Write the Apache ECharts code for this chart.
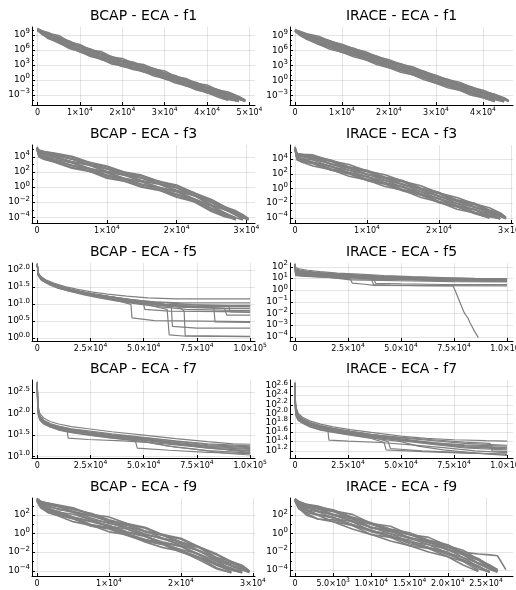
<!DOCTYPE html>
<html><head><meta charset="utf-8">
<script src="https://cdn.jsdelivr.net/npm/echarts@6/dist/echarts.min.js"></script>
<style>html,body{margin:0;padding:0;background:#fff}#c{width:516px;height:590px}</style>
</head><body><div id="c"></div>
<script>
// ---------- DATA (y values are log10 of the objective value) ----------
const bcapF1X = [0,1000,2500,5000,7500,10000,12500,15000,17500,20000,22500,25000,27500,30000,32500,35000,37500,40000,42500,45000,47500,49000];
const bcapF1Y = [
 [10.2,9.9,9.3,8.9,7.6,7.1,6.0,5.7,4.6,4.3,3.4,3.1,2.2,1.8,0.7,0.3,-0.7,-1.0,-2.0,-2.4,-3.3,-4.1],
 [10.1,9.7,9.4,8.4,7.7,6.7,6.1,5.2,4.6,3.8,3.5,2.7,2.2,1.3,0.8,-0.1,-0.6,-1.5,-2.0,-2.8,-3.5,-4.2],
 [10.0,9.8,9.1,8.4,7.3,6.7,5.7,5.2,4.2,3.8,3.1,2.7,1.8,1.3,0.4,-0.1,-1.0,-1.5,-2.4,-2.9,-3.7,-4.2],
 [10.1,9.6,9.0,8.2,7.1,6.5,5.5,5.0,4.0,3.6,2.9,2.5,1.6,1.1,0.2,-0.3,-1.2,-1.7,-2.6,-3.1,-3.9,-4.2],
 [10.0,9.4,8.9,7.9,7.1,6.1,5.5,4.6,4.0,3.2,2.9,2.1,1.6,0.7,0.2,-0.7,-1.2,-2.1,-2.6,-3.4,-4.1],
 [9.9,9.4,8.6,7.8,6.7,6.1,5.1,4.6,3.6,3.2,2.5,2.1,1.2,0.7,-0.2,-0.7,-1.6,-2.1,-3.0,-3.5,-4.2],
 [10.0,9.2,8.6,7.5,6.7,5.7,5.1,4.2,3.6,2.8,2.5,1.7,1.2,0.3,-0.2,-1.1,-1.6,-2.5,-3.0,-3.8,-4.2],
 [9.9,9.3,8.3,7.5,6.3,5.7,4.7,4.2,3.2,2.8,2.1,1.7,0.8,0.3,-0.6,-1.1,-2.0,-2.5,-3.4,-4.1],
 [10.3,9.8,9.5,8.5,7.8,6.8,6.2,5.3,4.7,3.9,3.6,2.8,2.3,1.4,0.9,0.0,-0.5,-1.4,-1.9,-2.7,-3.4,-4.0],
 [10.1,9.6,9.2,8.2,7.2,6.6,5.6,5.1,4.1,3.7,3.0,2.6,1.7,1.2,0.3,-0.2,-1.1,-1.6,-2.5,-3.0,-3.8,-4.3],
 [10.0,9.5,8.7,8.0,6.8,6.2,5.2,4.7,3.7,3.3,2.6,2.2,1.3,0.8,-0.1,-0.6,-1.5,-2.0,-2.9,-3.4,-4.1],
 [9.9,9.2,8.5,7.4,6.6,5.6,5.0,4.1,3.5,2.7,2.4,1.6,1.1,0.2,-0.3,-1.2,-1.7,-2.6,-3.1,-3.9,-4.3],
 [10.2,9.7,9.3,8.5,7.4,6.8,5.8,5.3,4.3,3.9,3.2,2.8,1.9,1.4,0.5,0.0,-0.9,-1.4,-2.3,-2.8,-3.6,-4.2],
 [10.0,9.3,8.6,7.7,6.6,6.0,5.0,4.5,3.5,3.1,2.4,2.0,1.1,0.6,-0.3,-0.8,-1.7,-2.2,-3.1,-3.6,-4.3]
];
const iraceF1X = [0,1000,2500,5000,7500,10000,12500,15000,17500,20000,22500,25000,27500,30000,32500,35000,37500,40000,42500,44500,45500];
const iraceF1Y = [
 [10.2,9.9,9.4,8.9,7.9,7.3,6.4,5.8,4.8,4.2,3.3,2.8,1.8,1.1,0.2,-0.3,-1.3,-1.9,-2.8,-3.4,-4.0],
 [10.1,9.8,9.2,8.5,7.9,6.9,6.4,5.4,4.8,3.8,3.3,2.4,1.8,0.7,0.2,-0.7,-1.3,-2.3,-2.8,-3.6,-4.1],
 [10.0,9.7,9.1,8.5,7.5,6.9,6.0,5.4,4.4,3.8,2.9,2.4,1.4,0.7,-0.2,-0.7,-1.7,-2.3,-3.2,-3.8,-4.1],
 [10.1,9.6,9.0,8.2,7.5,6.5,6.0,5.0,4.4,3.4,2.9,2.0,1.4,0.3,-0.2,-1.1,-1.7,-2.6,-3.2,-4.0],
 [10.0,9.5,8.8,8.1,7.1,6.5,5.6,5.0,4.0,3.4,2.5,2.0,1.0,0.3,-0.6,-1.1,-2.1,-2.6,-3.5,-4.1],
 [9.9,9.4,8.8,7.7,7.1,6.1,5.6,4.6,4.0,3.0,2.5,1.6,1.0,-0.1,-0.6,-1.5,-2.1,-3.0,-3.5,-4.2],
 [10.0,9.3,8.6,7.7,6.7,6.1,5.2,4.6,3.6,3.0,2.1,1.6,0.6,-0.1,-1.0,-1.5,-2.5,-3.0,-3.9],
 [9.9,9.2,8.6,7.3,6.7,5.7,5.2,4.2,3.6,2.6,2.1,1.2,0.6,-0.5,-1.0,-1.9,-2.5,-3.4,-4.1],
 [9.9,9.1,8.3,7.3,6.3,5.7,4.8,4.2,3.2,2.6,1.7,1.2,0.2,-0.5,-1.4,-1.9,-2.9,-3.4,-4.2],
 [10.2,9.8,9.3,8.6,8.0,7.0,6.5,5.5,4.9,3.9,3.4,2.5,1.9,0.8,0.3,-0.6,-1.2,-2.2,-2.7,-3.5,-4.0],
 [10.1,9.7,9.0,8.4,7.4,6.8,5.9,5.3,4.3,3.7,2.8,2.3,1.3,0.6,-0.3,-0.8,-1.8,-2.3,-3.2,-3.9],
 [10.0,9.3,8.7,7.8,6.8,6.2,5.3,4.7,3.7,3.1,2.2,1.7,0.7,0.0,-0.9,-1.4,-2.4,-2.9,-3.8,-4.2],
 [10.1,9.7,9.2,8.3,7.8,6.8,6.3,5.3,4.7,3.7,3.2,2.3,1.7,0.6,0.1,-0.8,-1.4,-2.4,-2.9,-3.7,-4.1],
 [9.9,9.3,8.5,7.6,6.6,6.0,5.1,4.5,3.5,2.9,2.0,1.5,0.5,-0.2,-1.1,-1.6,-2.6,-3.1,-4.0]
];
const bcapF3X = [0,300,1000,2500,5000,7500,10000,12500,15000,17500,20000,22500,25000,27000,28500,29500,30300];
const bcapF3Y = [
 [5.3,4.9,4.7,4.5,4.1,3.3,2.8,2.0,1.6,0.8,0.3,-0.7,-1.6,-2.6,-3.1,-3.6,-4.1],
 [5.2,4.8,4.6,4.3,3.7,3.3,2.4,2.0,1.2,0.8,-0.1,-0.7,-2.0,-2.6,-3.4,-3.8,-4.2],
 [5.1,4.7,4.4,4.3,3.7,2.9,2.4,1.6,1.2,0.4,-0.1,-1.1,-2.0,-3.0,-3.5,-4.1],
 [5.2,4.5,4.4,4.0,3.3,2.9,2.0,1.6,0.8,0.4,-0.5,-1.1,-2.4,-3.0,-3.7,-4.2],
 [5.0,4.4,4.1,3.9,3.3,2.5,2.0,1.2,0.8,0.0,-0.5,-1.5,-2.4,-3.4,-4.0],
 [5.1,4.2,4.0,3.6,2.9,2.5,1.6,1.2,0.4,0.0,-0.9,-1.5,-2.8,-3.4,-4.1],
 [5.0,4.1,3.8,3.5,2.9,2.1,1.6,0.8,0.4,-0.4,-0.9,-1.9,-2.8,-3.7,-4.2],
 [4.9,4.0,3.7,3.3,2.5,2.1,1.2,0.8,0.0,-0.4,-1.3,-1.9,-3.2,-3.9,-4.2],
 [5.3,4.8,4.7,4.4,4.0,3.2,2.7,1.9,1.5,0.7,0.2,-0.8,-1.7,-2.7,-3.2,-3.7,-4.2],
 [5.2,4.6,4.3,4.1,3.4,3.0,2.1,1.7,0.9,0.5,-0.4,-1.0,-2.3,-2.9,-3.6,-4.0,-4.3],
 [5.1,4.3,4.1,3.7,3.2,2.4,1.9,1.1,0.7,-0.1,-0.6,-1.6,-2.5,-3.5,-4.0,-4.3],
 [5.0,4.1,3.7,3.4,2.6,2.2,1.3,0.9,0.1,-0.3,-1.2,-1.8,-3.1,-3.7,-4.3],
 [5.2,4.7,4.6,4.2,3.8,3.0,2.5,1.7,1.3,0.5,0.0,-1.0,-1.9,-2.9,-3.3,-3.9,-4.2],
 [5.0,4.2,3.9,3.6,2.8,2.4,1.5,1.1,0.3,-0.1,-1.0,-1.6,-2.9,-3.5,-4.1]
];
const iraceF3X = [0,300,1000,2500,5000,7500,10000,12500,15000,17500,20000,22500,25000,27000,28500,29300];
const iraceF3Y = [
 [5.6,4.8,4.7,4.6,3.8,3.3,2.4,1.9,1.0,0.4,-0.6,-1.2,-2.1,-2.6,-3.3,-3.9],
 [5.5,4.7,4.6,4.3,3.8,2.9,2.4,1.5,1.0,0.0,-0.6,-1.6,-2.1,-3.0,-3.4,-4.0],
 [5.4,4.6,4.4,4.3,3.4,2.9,2.0,1.5,0.6,0.0,-1.0,-1.6,-2.5,-3.0,-3.6,-4.0],
 [5.6,4.4,4.4,4.0,3.4,2.5,2.0,1.1,0.6,-0.4,-1.0,-2.0,-2.5,-3.3,-3.8,-4.1],
 [5.5,4.3,4.1,3.9,3.0,2.5,1.6,1.1,0.2,-0.4,-1.4,-2.0,-2.9,-3.4,-4.0],
 [5.4,4.1,4.0,3.5,3.0,2.1,1.6,0.7,0.2,-0.8,-1.4,-2.4,-2.9,-3.7,-4.1],
 [5.5,4.0,3.8,3.5,2.6,2.1,1.2,0.7,-0.2,-0.8,-1.8,-2.4,-3.3,-3.8,-4.1],
 [5.3,3.9,3.6,3.1,2.6,1.7,1.2,0.3,-0.2,-1.2,-1.8,-2.8,-3.3,-4.0],
 [5.7,4.7,4.7,4.4,3.9,3.0,2.5,1.6,1.1,0.1,-0.5,-1.5,-2.0,-2.9,-3.3,-3.9],
 [5.5,4.5,4.4,4.2,3.3,2.8,1.9,1.4,0.5,-0.1,-1.1,-1.7,-2.6,-3.2,-3.7,-4.1],
 [5.6,4.2,4.1,3.6,3.1,2.2,1.7,0.8,0.3,-0.7,-1.3,-2.3,-2.8,-3.6,-4.1],
 [5.4,4.0,3.7,3.4,2.5,2.0,1.1,0.6,-0.3,-0.9,-1.9,-2.5,-3.4,-4.0],
 [5.6,4.6,4.5,4.2,3.7,2.8,2.3,1.4,0.9,-0.1,-0.7,-1.7,-2.2,-3.1,-3.5,-4.0],
 [5.5,4.1,3.9,3.6,2.7,2.2,1.3,0.8,-0.1,-0.7,-1.7,-2.3,-3.2,-3.7,-4.1]
];
const bcapF5Runs = [
 [[0,2.18],[300,1.92],[1500,1.82],[4000,1.72],[8000,1.62],[13000,1.52],[19000,1.44],[26000,1.36],[33000,1.3],[42000,1.24],[52000,1.19],[65000,1.16],[100000,1.16]],
 [[0,2.15],[400,1.88],[2000,1.75],[5000,1.64],[9000,1.55],[14000,1.46],[20000,1.38],[27000,1.3],[35000,1.22],[44000,1.14],[55000,1.07],[68000,1.04],[100000,1.04]],
 [[0,2.2],[300,1.95],[1200,1.85],[3500,1.7],[7000,1.6],[12000,1.5],[18000,1.4],[24000,1.32],[31000,1.24],[39000,1.16],[48000,1.08],[60000,1.0],[78000,0.97],[100000,0.97]],
 [[0,2.16],[500,1.85],[2500,1.72],[6000,1.6],[11000,1.48],[17000,1.38],[23000,1.3],[30000,1.22],[38000,1.14],[47000,1.05],[58000,0.98],[72000,0.93],[100000,0.93]],
 [[0,2.18],[300,1.9],[1500,1.78],[4500,1.66],[9000,1.55],[15000,1.45],[21000,1.36],[28000,1.28],[36000,1.2],[45000,1.1],[54000,1.0],[66000,0.92],[85000,0.88],[100000,0.88]],
 [[0,2.14],[400,1.84],[2000,1.7],[5500,1.58],[10000,1.47],[16000,1.37],[22000,1.28],[29000,1.19],[37000,1.1],[46000,1.02],[57000,0.93],[70000,0.85],[92000,0.82],[100000,0.82]],
 [[0,2.2],[300,1.93],[1500,1.8],[4000,1.68],[8500,1.56],[14000,1.44],[20000,1.34],[27000,1.25],[35000,1.16],[44000,1.07],[50000,1.0],[50500,0.85],[62000,0.8],[100000,0.78]],
 [[0,2.17],[350,1.9],[1800,1.76],[5000,1.63],[10000,1.52],[16000,1.42],[23000,1.33],[31000,1.25],[40000,1.17],[50000,1.08],[60000,1.0],[75000,0.93],[88000,0.88],[89000,0.68],[100000,0.68]],
 [[0,2.19],[300,1.87],[1500,1.74],[4500,1.62],[9000,1.5],[15000,1.39],[22000,1.3],[30000,1.2],[38000,1.1],[44000,1.0],[44500,0.6],[55000,0.52],[100000,0.49]],
 [[0,2.16],[400,1.89],[2000,1.77],[6000,1.63],[11000,1.52],[17000,1.42],[24000,1.33],[32000,1.25],[41000,1.16],[51000,1.06],[62000,0.97],[74000,0.92],[83000,0.9],[83500,0.48],[100000,0.47]],
 [[0,2.18],[300,1.91],[1200,1.8],[3500,1.67],[7500,1.55],[13000,1.45],[19000,1.36],[26000,1.27],[34000,1.18],[43000,1.08],[53000,1.0],[63000,0.93],[63500,0.35],[75000,0.3],[100000,0.3]],
 [[0,2.15],[500,1.86],[2500,1.73],[6500,1.6],[12000,1.48],[18000,1.37],[25000,1.28],[33000,1.18],[42000,1.08],[52000,0.98],[61000,0.85],[62000,0.1],[70000,0.06],[100000,0.05]],
 [[0,2.2],[300,1.94],[1400,1.83],[4000,1.7],[8000,1.58],[13500,1.47],[20000,1.37],[27000,1.29],[35000,1.21],[45000,1.12],[56000,1.02],[66000,0.95],[69000,0.8],[69500,0.08],[100000,0.06]],
 [[0,2.17],[400,1.88],[2000,1.76],[5500,1.64],[10000,1.54],[16000,1.44],[22000,1.35],[30000,1.26],[39000,1.18],[49000,1.1],[60000,1.04],[73000,0.99],[90000,0.96],[90500,0.78],[100000,0.76]]
];
const iraceF5Runs = [
 [[0,2.3],[300,1.95],[2000,1.85],[6000,1.72],[12000,1.6],[20000,1.48],[30000,1.38],[42000,1.27],[55000,1.18],[70000,1.1],[85000,1.03],[100000,1.0]],
 [[0,2.25],[300,1.85],[2000,1.75],[6000,1.63],[12000,1.52],[20000,1.42],[30000,1.32],[42000,1.22],[56000,1.13],[72000,1.05],[88000,0.98],[100000,0.97]],
 [[0,2.2],[300,1.75],[2500,1.66],[7000,1.55],[14000,1.45],[22000,1.35],[32000,1.25],[44000,1.15],[58000,1.06],[74000,0.98],[90000,0.92],[100000,0.92]],
 [[0,2.22],[300,1.65],[2500,1.57],[7000,1.48],[14000,1.38],[23000,1.29],[33000,1.2],[45000,1.1],[60000,1.01],[76000,0.93],[92000,0.88],[100000,0.88]],
 [[0,2.18],[300,1.55],[3000,1.48],[8000,1.4],[15000,1.32],[24000,1.23],[35000,1.14],[47000,1.05],[62000,0.96],[78000,0.88],[100000,0.85]],
 [[0,2.2],[300,1.45],[3000,1.38],[9000,1.3],[16000,1.22],[25000,1.14],[36000,1.06],[48000,0.98],[63000,0.9],[80000,0.82],[100000,0.8]],
 [[0,2.15],[300,1.35],[4000,1.28],[10000,1.2],[15500,1.12],[15600,0.95],[26000,0.9],[40000,0.85],[55000,0.8],[75000,0.75],[100000,0.72]],
 [[0,2.17],[300,1.3],[5000,1.22],[12000,1.14],[20000,1.06],[26000,1.0],[27000,0.62],[33000,0.52],[37000,0.42],[60000,0.4],[100000,0.38]],
 [[0,2.2],[300,1.5],[3500,1.42],[9000,1.33],[16000,1.25],[25000,1.15],[37000,1.05],[38000,0.6],[50000,0.55],[70000,0.5],[100000,0.48]],
 [[0,2.22],[300,1.4],[4000,1.33],[10000,1.24],[18000,1.16],[28000,1.06],[36000,0.98],[37000,0.5],[45000,0.45],[60000,0.4],[74500,0.37],[75500,0.0],[76500,-0.45],[77500,-0.9],[78500,-1.35],[79500,-1.8],[80500,-2.1],[81500,-2.35],[82500,-2.75],[83500,-3.1],[84500,-3.45],[85500,-3.75],[86500,-4.05]],
 [[0,2.16],[300,1.6],[2500,1.52],[7000,1.43],[13000,1.34],[21000,1.25],[31000,1.16],[42000,1.07],[56000,0.98],[72000,0.9],[90000,0.83],[100000,0.82]],
 [[0,2.19],[300,1.25],[5000,1.2],[13000,1.12],[22000,1.05],[25000,0.98],[40000,0.93],[58000,0.88],[78000,0.85],[100000,0.84]],
 [[0,2.2],[300,1.7],[2500,1.62],[7000,1.52],[14000,1.42],[22000,1.32],[32000,1.22],[44000,1.12],[58000,1.03],[74000,0.95],[90000,0.9],[100000,0.9]],
 [[0,2.18],[300,1.58],[3000,1.5],[8000,1.42],[15000,1.34],[24000,1.25],[35000,1.16],[47000,1.07],[62000,0.99],[78000,0.92],[100000,0.87]],
 [[0,2.21],[300,1.8],[2000,1.7],[6000,1.58],[12000,1.47],[20000,1.37],[30000,1.28],[42000,1.18],[56000,1.09],[72000,1.01],[88000,0.95],[100000,0.94]],
 [[0,2.17],[300,1.42],[3500,1.35],[9000,1.27],[16000,1.19],[24000,1.11],[34000,1.03],[46000,0.96],[62000,0.88],[80000,0.8],[100000,0.77]]
];
const bcapF7Runs = [
 [[0,2.75],[150,2.4],[500,2.15],[1200,2.0],[3000,1.9],[6000,1.82],[10000,1.76],[16000,1.7],[24000,1.65],[35000,1.58],[50000,1.5],[65000,1.42],[80000,1.35],[92000,1.3],[100000,1.29]],
 [[0,2.7],[150,2.3],[500,2.08],[1200,1.95],[3000,1.85],[6000,1.77],[10000,1.71],[16000,1.65],[24000,1.6],[35000,1.53],[50000,1.45],[65000,1.37],[80000,1.3],[100000,1.25]],
 [[0,2.72],[150,2.25],[500,2.03],[1200,1.9],[3000,1.8],[6000,1.73],[10000,1.67],[16000,1.62],[24000,1.56],[35000,1.49],[50000,1.41],[65000,1.33],[80000,1.26],[100000,1.21]],
 [[0,2.68],[150,2.2],[500,1.98],[1200,1.86],[3000,1.77],[6000,1.7],[10000,1.64],[16000,1.58],[24000,1.52],[35000,1.46],[50000,1.38],[65000,1.29],[80000,1.22],[100000,1.17]],
 [[0,2.74],[150,2.35],[500,2.1],[1200,1.93],[3000,1.83],[6000,1.75],[10000,1.69],[14000,1.62],[14500,1.43],[24000,1.4],[40000,1.37],[55000,1.32],[70000,1.25],[85000,1.18],[100000,1.14]],
 [[0,2.7],[150,2.28],[500,2.05],[1200,1.91],[3000,1.81],[6000,1.72],[10000,1.65],[16000,1.59],[24000,1.53],[35000,1.46],[46000,1.38],[47000,1.2],[62000,1.15],[80000,1.1],[100000,1.07]],
 [[0,2.73],[150,2.32],[500,2.06],[1200,1.92],[3000,1.82],[6000,1.74],[10000,1.68],[16000,1.62],[24000,1.57],[35000,1.5],[50000,1.42],[65000,1.34],[78000,1.25],[90000,1.15],[100000,1.1]],
 [[0,2.69],[150,2.18],[500,1.97],[1200,1.85],[3000,1.76],[6000,1.69],[10000,1.62],[16000,1.56],[24000,1.5],[35000,1.43],[50000,1.35],[60000,1.26],[75000,1.17],[88000,1.08],[100000,1.04]],
 [[0,2.71],[150,2.26],[500,2.02],[1200,1.89],[3000,1.79],[6000,1.71],[10000,1.66],[16000,1.6],[24000,1.55],[35000,1.47],[50000,1.4],[65000,1.31],[80000,1.24],[100000,1.19]],
 [[0,2.74],[150,2.34],[500,2.09],[1200,1.94],[3000,1.84],[6000,1.76],[10000,1.7],[16000,1.64],[24000,1.58],[35000,1.51],[50000,1.44],[65000,1.36],[80000,1.28],[100000,1.23]],
 [[0,2.7],[150,2.22],[500,2.0],[1200,1.87],[3000,1.78],[6000,1.7],[10000,1.63],[16000,1.57],[24000,1.51],[35000,1.44],[50000,1.36],[56000,1.3],[65000,1.22],[80000,1.14],[100000,1.09]],
 [[0,2.72],[150,2.27],[500,2.04],[1200,1.9],[3000,1.8],[6000,1.72],[10000,1.66],[16000,1.61],[24000,1.54],[35000,1.48],[50000,1.39],[65000,1.3],[80000,1.2],[100000,1.13]]
];
const iraceF7Runs = [
 [[0,2.69],[150,2.35],[500,2.15],[1500,2.02],[3500,1.93],[7000,1.85],[12000,1.78],[18000,1.72],[26000,1.66],[36000,1.6],[50000,1.52],[62000,1.47],[75000,1.44],[90000,1.42],[100000,1.41]],
 [[0,2.66],[150,2.25],[500,2.08],[1500,1.96],[3500,1.88],[7000,1.8],[12000,1.73],[18000,1.67],[26000,1.61],[36000,1.55],[50000,1.48],[65000,1.42],[80000,1.36],[100000,1.32]],
 [[0,2.68],[150,2.3],[500,2.1],[1500,1.98],[3500,1.9],[7000,1.82],[12000,1.75],[18000,1.69],[26000,1.63],[36000,1.56],[50000,1.46],[65000,1.38],[80000,1.31],[100000,1.27]],
 [[0,2.62],[150,2.15],[500,1.98],[1500,1.88],[3500,1.82],[7000,1.75],[12000,1.68],[18000,1.62],[26000,1.56],[36000,1.5],[50000,1.42],[65000,1.34],[80000,1.26],[100000,1.22]],
 [[0,2.65],[150,2.2],[500,2.03],[1500,1.93],[3500,1.86],[7000,1.78],[12000,1.71],[15500,1.66],[16000,1.43],[25000,1.41],[40000,1.38],[55000,1.33],[70000,1.27],[85000,1.2],[100000,1.16]],
 [[0,2.6],[150,2.1],[500,1.95],[1500,1.86],[3500,1.8],[7000,1.72],[12000,1.65],[18000,1.6],[26000,1.54],[36000,1.47],[42000,1.38],[43000,1.22],[60000,1.18],[80000,1.15],[100000,1.13]],
 [[0,2.67],[150,2.28],[500,2.06],[1500,1.95],[3500,1.87],[7000,1.79],[12000,1.72],[18000,1.66],[26000,1.6],[36000,1.53],[50000,1.45],[65000,1.36],[80000,1.28],[100000,1.24]],
 [[0,2.63],[150,2.18],[500,2.0],[1500,1.9],[3500,1.83],[7000,1.76],[12000,1.69],[18000,1.63],[26000,1.57],[36000,1.5],[44000,1.4],[45000,1.25],[60000,1.2],[80000,1.16],[100000,1.12]],
 [[0,2.64],[150,2.22],[500,2.04],[1500,1.94],[3500,1.85],[7000,1.77],[12000,1.7],[18000,1.64],[26000,1.58],[36000,1.52],[50000,1.44],[65000,1.37],[80000,1.33],[100000,1.3]],
 [[0,2.66],[150,2.26],[500,2.07],[1500,1.97],[3500,1.89],[7000,1.81],[12000,1.74],[18000,1.68],[26000,1.62],[36000,1.55],[50000,1.49],[65000,1.44],[80000,1.39],[92000,1.36],[93000,1.2],[100000,1.18]],
 [[0,2.61],[150,2.12],[500,1.97],[1500,1.87],[3500,1.81],[7000,1.73],[12000,1.66],[18000,1.61],[26000,1.55],[36000,1.48],[50000,1.4],[58000,1.3],[70000,1.22],[85000,1.15],[100000,1.1]],
 [[0,2.65],[150,2.24],[500,2.05],[1500,1.92],[3500,1.84],[7000,1.76],[12000,1.7],[18000,1.64],[26000,1.59],[36000,1.51],[50000,1.43],[65000,1.35],[80000,1.29],[100000,1.26]]
];
const bcapF9X = [0,500,1500,3000,5000,7500,10000,12500,15000,17500,20000,22500,25000,27000,28500,29500];
const bcapF9Y = [
 [3.8,3.5,3.3,3.1,2.8,2.1,1.8,1.1,0.7,-0.1,-0.5,-1.4,-2.2,-3.0,-3.4,-4.0],
 [3.7,3.5,3.2,2.9,2.7,2.1,1.4,1.1,0.3,-0.1,-0.9,-1.4,-2.6,-3.0,-3.6,-4.1],
 [3.8,3.3,3.1,2.9,2.3,1.9,1.4,0.7,0.3,-0.5,-0.9,-1.8,-2.6,-3.4,-3.8,-4.1],
 [3.7,3.3,2.9,2.7,2.3,1.5,1.2,0.5,-0.1,-0.5,-1.3,-1.8,-3.0,-3.4,-4.0],
 [3.6,3.2,2.8,2.3,2.1,1.5,0.8,0.5,-0.3,-0.9,-1.3,-2.2,-3.0,-3.8,-4.1],
 [3.7,3.0,2.6,2.3,1.7,1.3,0.8,0.1,-0.3,-1.1,-1.7,-2.2,-3.4,-3.9,-4.2],
 [3.6,3.0,2.4,2.1,1.7,0.9,0.6,-0.1,-0.7,-1.1,-1.9,-2.6,-3.4,-4.1],
 [3.5,2.8,2.3,1.9,1.3,0.9,0.2,-0.1,-0.9,-1.5,-1.9,-2.8,-3.8,-4.2],
 [3.8,3.4,3.3,3.0,2.6,2.2,1.5,1.0,0.6,-0.2,-0.6,-1.5,-2.3,-3.1,-3.5,-4.0],
 [3.7,3.4,3.0,2.6,2.4,1.7,1.1,0.7,0.0,-0.6,-1.1,-1.9,-2.8,-3.5,-3.9,-4.2],
 [3.6,3.1,2.7,2.4,1.8,1.4,0.9,0.2,-0.2,-1.0,-1.4,-2.3,-3.2,-3.7,-4.1],
 [3.5,2.9,2.3,2.0,1.6,0.8,0.5,-0.2,-0.8,-1.2,-2.0,-2.6,-3.7,-4.2],
 [3.8,3.4,3.1,3.0,2.4,2.0,1.3,0.9,0.2,-0.2,-1.0,-1.5,-2.7,-3.2,-3.7,-4.1],
 [3.6,3.0,2.5,2.2,1.8,1.0,0.7,0.0,-0.6,-1.0,-1.8,-2.5,-3.3,-3.9,-4.2]
];
const iraceF9X = [0,500,1500,3000,5000,7500,10000,12500,15000,17500,20000,22000,24000,25500,26500,27600];
const iraceF9Y = [
 [3.8,3.5,3.2,3.0,2.5,2.1,1.1,0.8,-0.1,-0.4,-1.3,-1.8,-2.8,-3.4,-3.9],
 [3.7,3.5,3.1,2.8,2.5,1.7,1.1,0.4,-0.1,-0.8,-1.3,-2.2,-2.8,-3.6,-4.0],
 [3.8,3.3,3.0,2.8,2.1,1.7,0.7,0.4,-0.5,-0.8,-1.7,-2.2,-3.2,-3.6,-4.1],
 [3.7,3.2,2.9,2.4,2.1,1.3,0.7,0.0,-0.5,-1.2,-1.7,-2.6,-3.2,-3.9,-4.2],
 [3.6,3.1,2.6,2.4,1.7,1.3,0.3,0.0,-0.9,-1.2,-2.1,-2.6,-3.6,-4.1],
 [3.7,2.9,2.5,2.0,1.7,0.9,0.3,-0.4,-0.9,-1.6,-2.1,-3.0,-3.6,-4.2],
 [3.8,3.2,2.8,2.5,2.0,1.4,0.7,0.2,-0.4,-1.0,-1.5,-2.0,-2.2,-2.3,-2.4,-3.9],
 [3.6,2.8,2.3,2.0,1.3,0.9,-0.1,-0.4,-1.3,-1.6,-2.5,-3.0,-4.0],
 [3.5,2.7,2.2,1.6,1.3,0.5,-0.1,-0.8,-1.3,-2.0,-2.5,-3.4,-4.1],
 [3.8,3.4,3.2,2.9,2.6,1.8,1.2,0.5,0.1,-0.7,-1.2,-2.1,-2.7,-3.5,-3.9],
 [3.7,3.3,2.8,2.7,2.0,1.6,0.6,0.3,-0.5,-0.9,-1.8,-2.3,-3.3,-3.8,-4.1],
 [3.6,3.0,2.6,2.1,1.8,1.0,0.4,-0.3,-0.7,-1.5,-2.0,-2.9,-3.5,-4.2],
 [3.8,3.3,3.1,2.7,2.4,1.6,1.0,0.3,-0.1,-0.9,-1.4,-2.3,-2.9,-3.7,-4.0],
 [3.6,2.8,2.0,1.6,1.5,1.0,0.2,-0.2,-1.1,-1.5,-2.3,-2.8,-3.8,-4.2]
];

// tick values
const xTicks1e4to5 = [0,10000,20000,30000,40000,50000];
const xTicks1e4to4 = [0,10000,20000,30000,40000];
const xTicks1e4to3 = [0,10000,20000,30000];
const xTicks25e3 = [0,25000,50000,75000,100000];
const xTicks5e3 = [0,5000,10000,15000,20000,25000];
const yTicksF1 = [-3,0,3,6,9];
const yMinorF1 = [-5,-4,-2,-1,1,2,4,5,7,8,10];
const yTicksF3 = [-4,-2,0,2,4];
const yMinorF3 = [-3,-1,1,3,5];
const yTicksBcapF5 = [0,0.5,1,1.5,2];
const yTicksIraceF5 = [-4,-3,-2,-1,0,1,2];
const yTicksBcapF7 = [1,1.5,2,2.5];
const yTicksIraceF7 = [1.2,1.4,1.6,1.8,2.0,2.2,2.4,2.6];
const yTicksF9 = [-4,-2,0,2];
const yMinorF9 = [-3,-1,1,3];

// ---------- LAYOUT ----------
const colLeft = [32, 290], plotW = 223, rowTop = [27, 145, 263, 380, 498], plotH = 78;
const FONT = 'DejaVu Sans', GRAY = '#808080';

const panels = [
 {t:'BCAP - ECA - f1', c:0, r:0, xs:bcapF1X, ys:bcapF1Y, xr:[-1297,51297], yr:[-5.0,10.6], xt:xTicks1e4to5, yt:yTicksF1, ym:yMinorF1, xd:0, yd:0},
 {t:'IRACE - ECA - f1', c:1, r:0, xs:iraceF1X, ys:iraceF1Y, xr:[-1064,46383], yr:[-4.86,10.74], xt:xTicks1e4to4, yt:yTicksF1, ym:yMinorF1, xd:0, yd:0},
 {t:'BCAP - ECA - f3', c:0, r:1, xs:bcapF3X, ys:bcapF3Y, xr:[-716,31232], yr:[-4.70,5.57], xt:xTicks1e4to3, yt:yTicksF3, ym:yMinorF3, xd:0, yd:0},
 {t:'IRACE - ECA - f3', c:1, r:1, xs:iraceF3X, ys:iraceF3Y, xr:[-694,30278], yr:[-4.67,5.95], xt:xTicks1e4to3, yt:yTicksF3, ym:yMinorF3, xd:0, yd:0},
 {t:'BCAP - ECA - f5', c:0, r:2, runs:bcapF5Runs, xr:[-2491,102303], yr:[-0.079,2.215], xt:xTicks25e3, yt:yTicksBcapF5, ym:[], xd:1, yd:1},
 {t:'IRACE - ECA - f5', c:1, r:2, runs:iraceF5Runs, xr:[-2358,102830], yr:[-4.34,2.34], xt:xTicks25e3, yt:yTicksIraceF5, ym:[], xd:1, yd:0},
 {t:'BCAP - ECA - f7', c:0, r:3, runs:bcapF7Runs, xr:[-2491,102303], yr:[0.97,2.784], xt:xTicks25e3, yt:yTicksBcapF7, ym:[], xd:1, yd:1},
 {t:'IRACE - ECA - f7', c:1, r:3, runs:iraceF7Runs, xr:[-2358,102830], yr:[1.043,2.739], xt:xTicks25e3, yt:yTicksIraceF7, ym:[], xd:1, yd:1},
 {t:'BCAP - ECA - f9', c:0, r:4, xs:bcapF9X, ys:bcapF9Y, xr:[-694,30278], yr:[-4.56,3.85], xt:xTicks1e4to3, yt:yTicksF9, ym:yMinorF9, xd:0, yd:0},
 {t:'IRACE - ECA - f9', c:1, r:4, xs:iraceF9X, ys:iraceF9Y, xr:[-654,28534], yr:[-4.6,3.88], xt:xTicks5e3, yt:yTicksF9, ym:yMinorF9, xd:1, yd:0}
];

const richX = {
  b: {fontFamily: FONT, fontSize: 8, color: '#000', lineHeight: 10, verticalAlign: 'bottom'},
  s: {fontFamily: FONT, fontSize: 6, color: '#000', lineHeight: 7, verticalAlign: 'bottom', padding: [0, 0, 5, 0]}
};
const richY = {
  b: {fontFamily: FONT, fontSize: 9, color: '#000', lineHeight: 8, verticalAlign: 'bottom'},
  s: {fontFamily: FONT, fontSize: 7, color: '#000', lineHeight: 4, verticalAlign: 'bottom', padding: [0, 0, 4, 0]}
};
function expStr(v, d) { return (v < -1e-9 ? '\u2212' : '') + Math.abs(v).toFixed(d); }

const grid = [], xAxis = [], yAxis = [], title = [], series = [];
panels.forEach((p, i) => {
  const left = colLeft[p.c], top = rowTop[p.r];
  const yFmt = v => '{b|10}{s|' + expStr(v, p.yd) + '}';
  // labels split over two axes (alternate ticks) so close labels are never auto-hidden
  const ytA = p.yt.filter((v, k) => k % 2 === 0), ytB = p.yt.filter((v, k) => k % 2 === 1);
  grid.push({left: left, top: top, width: plotW, height: plotH, containLabel: false, outerBoundsMode: 'none'});
  title.push({text: p.t, left: left + plotW / 2, top: top - 19, textAlign: 'center', padding: 0,
    textStyle: {fontFamily: FONT, fontSize: 14, fontWeight: 'normal', color: '#000', lineHeight: 16}});
  xAxis.push({type: 'value', gridIndex: i, min: p.xr[0], max: p.xr[1],
    axisLine: {show: true, onZero: false, lineStyle: {color: '#000', width: 1}},
    axisTick: {show: true, inside: true, length: 3, lineStyle: {color: '#000'}, customValues: p.xt},
    splitLine: {show: true, lineStyle: {color: 'rgba(0,0,0,0.1)', width: 1}},
    axisLabel: {show: true, margin: 2, customValues: p.xt, showMinLabel: true, showMaxLabel: true, hideOverlap: false,
      rich: richX, fontFamily: FONT, fontSize: 8, color: '#000',
      formatter: v => {
        if (Math.abs(v) < 1e-9) return '{b|0}';
        const e = Math.floor(Math.log10(v) + 1e-9);
        const m = v / Math.pow(10, e);
        return '{b|' + m.toFixed(p.xd) + '\u00d710}{s|' + e + '}';
      }}});
  yAxis.push({type: 'value', gridIndex: i, min: p.yr[0], max: p.yr[1],
    axisLine: {show: true, onZero: false, lineStyle: {color: '#000', width: 1}},
    axisTick: {show: true, inside: true, length: 3, lineStyle: {color: '#000'}, customValues: p.yt},
    splitLine: {show: true, lineStyle: {color: 'rgba(0,0,0,0.1)', width: 1}},
    axisLabel: {show: true, margin: 2, customValues: ytA, showMinLabel: true, showMaxLabel: true, hideOverlap: false,
      rich: richY, fontFamily: FONT, fontSize: 9, lineHeight: 8, color: '#000', formatter: yFmt}});
  yAxis.push({type: 'value', gridIndex: i, min: p.yr[0], max: p.yr[1], position: 'left',
    axisLine: {show: false, onZero: false},
    axisTick: {show: p.ym.length > 0, inside: true, length: 2, lineStyle: {color: '#000'}, customValues: p.ym.length ? p.ym : [p.yr[0]]},
    splitLine: {show: false},
    axisLabel: {show: ytB.length > 0, margin: 2, customValues: ytB.length ? ytB : [p.yr[0]], showMinLabel: true, showMaxLabel: true, hideOverlap: false,
      rich: richY, fontFamily: FONT, fontSize: 9, lineHeight: 8, color: '#000', formatter: yFmt}});
  const runs = p.xs ? p.ys.map(r => r.map((v, k) => [p.xs[k], v])) : p.runs;
  const lw = p.xs ? 1.6 : 1.2;
  runs.forEach(d => series.push({type: 'line', xAxisIndex: i, yAxisIndex: 2 * i, data: d,
    showSymbol: false, symbol: 'none', silent: true, animation: false,
    emphasis: {disabled: true}, clip: true, lineStyle: {color: GRAY, width: lw}}));
});

const chart = echarts.init(document.getElementById('c'), null, {renderer: 'canvas'});
chart.setOption({animation: false, backgroundColor: '#fff', title, grid, xAxis, yAxis, series, tooltip: {show: false}});
</script></body></html>
